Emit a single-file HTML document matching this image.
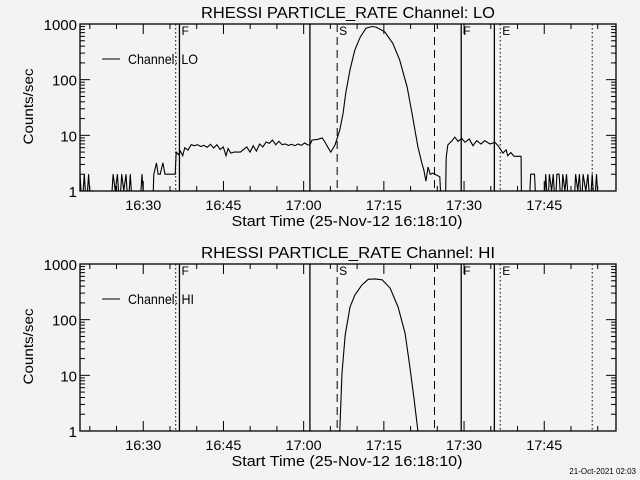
<!DOCTYPE html>
<html><head><meta charset="utf-8"><style>
html,body{margin:0;padding:0;background:#f3f3f3;}
svg{display:block;font-family:"Liberation Sans",sans-serif;}
</style></head><body>
<svg id="chart" width="640" height="480" viewBox="0 0 640 480" xmlns="http://www.w3.org/2000/svg">
<rect x="0" y="0" width="640" height="480" fill="#f3f3f3"/>
<text x="636" y="474" font-size="8" text-anchor="end" fill="#000">21-Oct-2021 02:03</text>
</svg>
<script>
// minutes since 16:18:10
const xTickLabels = ["16:30","16:45","17:00","17:15","17:30","17:45"];
const xTickMinutes = [11.83,26.83,41.83,56.83,71.83,86.83];
const yTickLabels = ["1","10","100","1000"];
const yTickValues = [1,10,100,1000];
const loTimes = [0,0.4,0.8,1.2,1.6,2.0,2.4,5.8,6.2,6.6,7.0,7.4,7.8,8.2,8.6,9.0,9.4,9.8,10.2,11.2,11.6,12.0,13.6,13.8,14.3,14.6,15.0,15.5,15.9,16.4,17.8,18.0,18.4,18.8,19.2,19.6,20.2,20.8,21.4,22.0,22.6,23.2,23.8,24.4,25.0,25.6,26.2,26.8,27.3,27.7,28.2,28.8,29.4,30.0,30.6,31.2,31.8,32.4,33.0,33.6,34.2,34.8,35.4,36.0,36.6,37.2,37.8,38.4,39.0,39.6,40.2,40.8,41.4,42.0,42.6,43.0,43.4,44.5,45.3,45.8,46.4,46.9,47.7,48.6,49.2,49.7,50.5,51.4,52.4,53.5,54.6,55.4,57.0,58.5,59.8,61.2,62.1,63.2,64.0,64.3,64.7,65.1,65.5,66.0,67.3,67.7,68.3,68.5,68.8,69.6,70.1,70.7,71.4,72.0,72.8,73.5,74.2,75.0,75.7,76.7,77.6,78.2,78.7,79.1,79.7,80.0,80.6,81.2,82.5,82.6,84.0,84.3,85.0,85.3,86.8,87.1,87.5,87.8,88.2,88.5,88.9,89.2,89.6,90.0,90.3,90.7,91.0,91.4,92.4,92.7,93.1,93.4,93.8,94.1,94.6,95.0,95.4,95.8,96.2,96.6,97.0];
const loValues = [2,0.5,2,0.5,2,0.5,1,0.5,2,1,2,0.5,2,1,2,0.5,2,0.5,0.5,0.5,2,0.5,0.5,2,3.2,2,2,3.2,2,2,2,5,4.5,5.2,4.3,6,5.4,6.8,6.5,6.8,6.3,6.6,6.1,6.9,5.9,6.8,5.6,6.2,4.3,5.8,4.8,5,5,5,5.6,6.2,5,6.5,5.2,7,6.2,7.6,7.2,8.2,6.8,7.8,6.8,7,6.6,6.9,6.5,7,6.6,7.3,6.7,6.7,8.2,8.5,9,7.6,6,5,6.7,12.5,25,57,150,340,580,840,900,880,720,450,225,73,25,6.2,3,2.4,1.5,2.7,2,2.1,1.8,0.3,0.3,4,6.7,8,9.3,7.8,8.8,7.5,8.6,6.5,8,7,8,7,7.5,6.5,5.5,4.8,5.5,4.3,4.9,4.2,4.2,0.3,0.5,2,2,0.5,0.5,2,0.5,2,1,2,0.5,2,2,0.5,2,1,2,0.5,0.5,2,1,2,0.5,2,1,2,0.5,2,0.5,2,0.5];
const hiTimes = [48.4,48.6,49.0,49.6,50.5,51.4,52.7,53.9,55.2,56.5,58.0,59.5,60.8,61.7,62.5,63.2,63.4];
const hiValues = [0.5,1,11,53,168,275,417,530,540,520,370,168,57,14,3.6,1,0.5];
const markerTimes = [17.9,18.6,43.0,48.1,66.3,71.3,77.5,78.6,95.8];
const markerStyles = ["dot","solid","solid","dash","dash","solid","solid","dot","dot"];
const markerLabels = ["","F","","S","","F","","E",""];

const NS="http://www.w3.org/2000/svg";
const svg=document.getElementById('chart');
const X0=80,X1=616,TMAX=100.25;
function xs(t){return X0+t*(X1-X0)/TMAX;}
function mk(tag,attrs,parent){const e=document.createElementNS(NS,tag);for(const k in attrs)e.setAttribute(k,attrs[k]);(parent||svg).appendChild(e);return e;}

function panel(top,bottom,label,times,values,idx){
  const g=mk('g',{});
  
  
  const dec=(bottom-top)/3;
  const ys=v=>bottom-Math.log10(v)*dec;
  const cid='clip'+idx;
  const cp=mk('clipPath',{id:cid},g);mk('rect',{x:X0,y:top,width:X1-X0,height:bottom-top},cp);
  // title
  const tt=mk('text',{x:348,y:top-6,'font-size':16,'text-anchor':'middle',textLength:294,lengthAdjust:'spacingAndGlyphs'},g);
  tt.textContent='RHESSI PARTICLE_RATE Channel: '+label;
  
  
  // frame
  const fr=mk('rect',{x:X0,y:top,width:X1-X0,height:bottom-top,fill:'none',stroke:'#000','stroke-width':1.3},g);
  
  
  // x ticks
  for(let m=1.83;m<TMAX;m+=5){
    const x=xs(m);const major=xTickMinutes.some(v=>Math.abs(v-m)<0.01);const L=major?10:5;
    mk('line',{x1:x,x2:x,y1:bottom,y2:bottom-L,stroke:'#000'},g);
    mk('line',{x1:x,x2:x,y1:top,y2:top+L,stroke:'#000'},g);
  }
  xTickLabels.forEach((s,i)=>{
    const t=mk('text',{x:xs(xTickMinutes[i]),y:bottom+19,'font-size':14,'text-anchor':'middle',textLength:36,lengthAdjust:'spacingAndGlyphs'},g);
    t.textContent=s;
    
    
  });
  const xt=mk('text',{x:347,y:bottom+35,'font-size':15,'text-anchor':'middle',textLength:231,lengthAdjust:'spacingAndGlyphs'},g);
  xt.textContent='Start Time (25-Nov-12 16:18:10)';
  
  
  // y ticks
  for(let d=0;d<3;d++)for(let k=1;k<=10;k++){
    if(k==1&&d>0)continue;
    const v=k*Math.pow(10,d);const y=ys(v);const L=(k==1||k==10)?10:5;
    mk('line',{x1:X0,x2:X0+L,y1:y,y2:y,stroke:'#000'},g);
    mk('line',{x1:X1,x2:X1-L,y1:y,y2:y,stroke:'#000'},g);
  }
  yTickLabels.forEach((s,i)=>{
    const t=mk('text',{x:77,y:ys(yTickValues[i])+6,'font-size':15,'text-anchor':'end'},g);
    t.textContent=s;
    
    
  });
  const yt=mk('text',{x:0,y:0,'font-size':14,'text-anchor':'middle',transform:`translate(33,${(top+bottom)/2-1}) rotate(-90)`,textLength:76,lengthAdjust:'spacingAndGlyphs'},g);
  yt.textContent='Counts/sec';
  
  
  // markers
  markerTimes.forEach((mt,i)=>{
    const x=xs(mt);const st=markerStyles[i];
    const ln=mk('line',{x1:x,x2:x,y1:top,y2:bottom,stroke:'#000','stroke-width':st=='solid'?1.3:1,'stroke-dasharray':st=='dash'?'8,5':(st=='dot'?'1.5,2.5':'none')},g);
    
    
    if(markerLabels[i]){
      const t=mk('text',{x:x+2,y:top+11,'font-size':12},g);
      t.textContent=markerLabels[i];
      
      
    }
  });
  // legend
  const lg=mk('g',{},g);
  
  
  mk('line',{x1:102,x2:120,y1:top+35,y2:top+35,stroke:'#000'},lg);
  const lt=mk('text',{x:128,y:top+40,'font-size':14,textLength:label=='LO'?70:66,lengthAdjust:'spacingAndGlyphs'},lg);
  lt.textContent='Channel: '+label;
  // series
  const pts=times.map((t,i)=>xs(t).toFixed(1)+','+ys(Math.max(values[i],0.3)).toFixed(1)).join(' ');
  const pl=mk('polyline',{points:pts,fill:'none',stroke:'#000','stroke-width':1.1,'clip-path':`url(#${cid})`},g);
  
  
}
panel(24,191,'LO',loTimes,loValues,1);
panel(264,431,'HI',hiTimes,hiValues,2);
</script>
</body></html>
